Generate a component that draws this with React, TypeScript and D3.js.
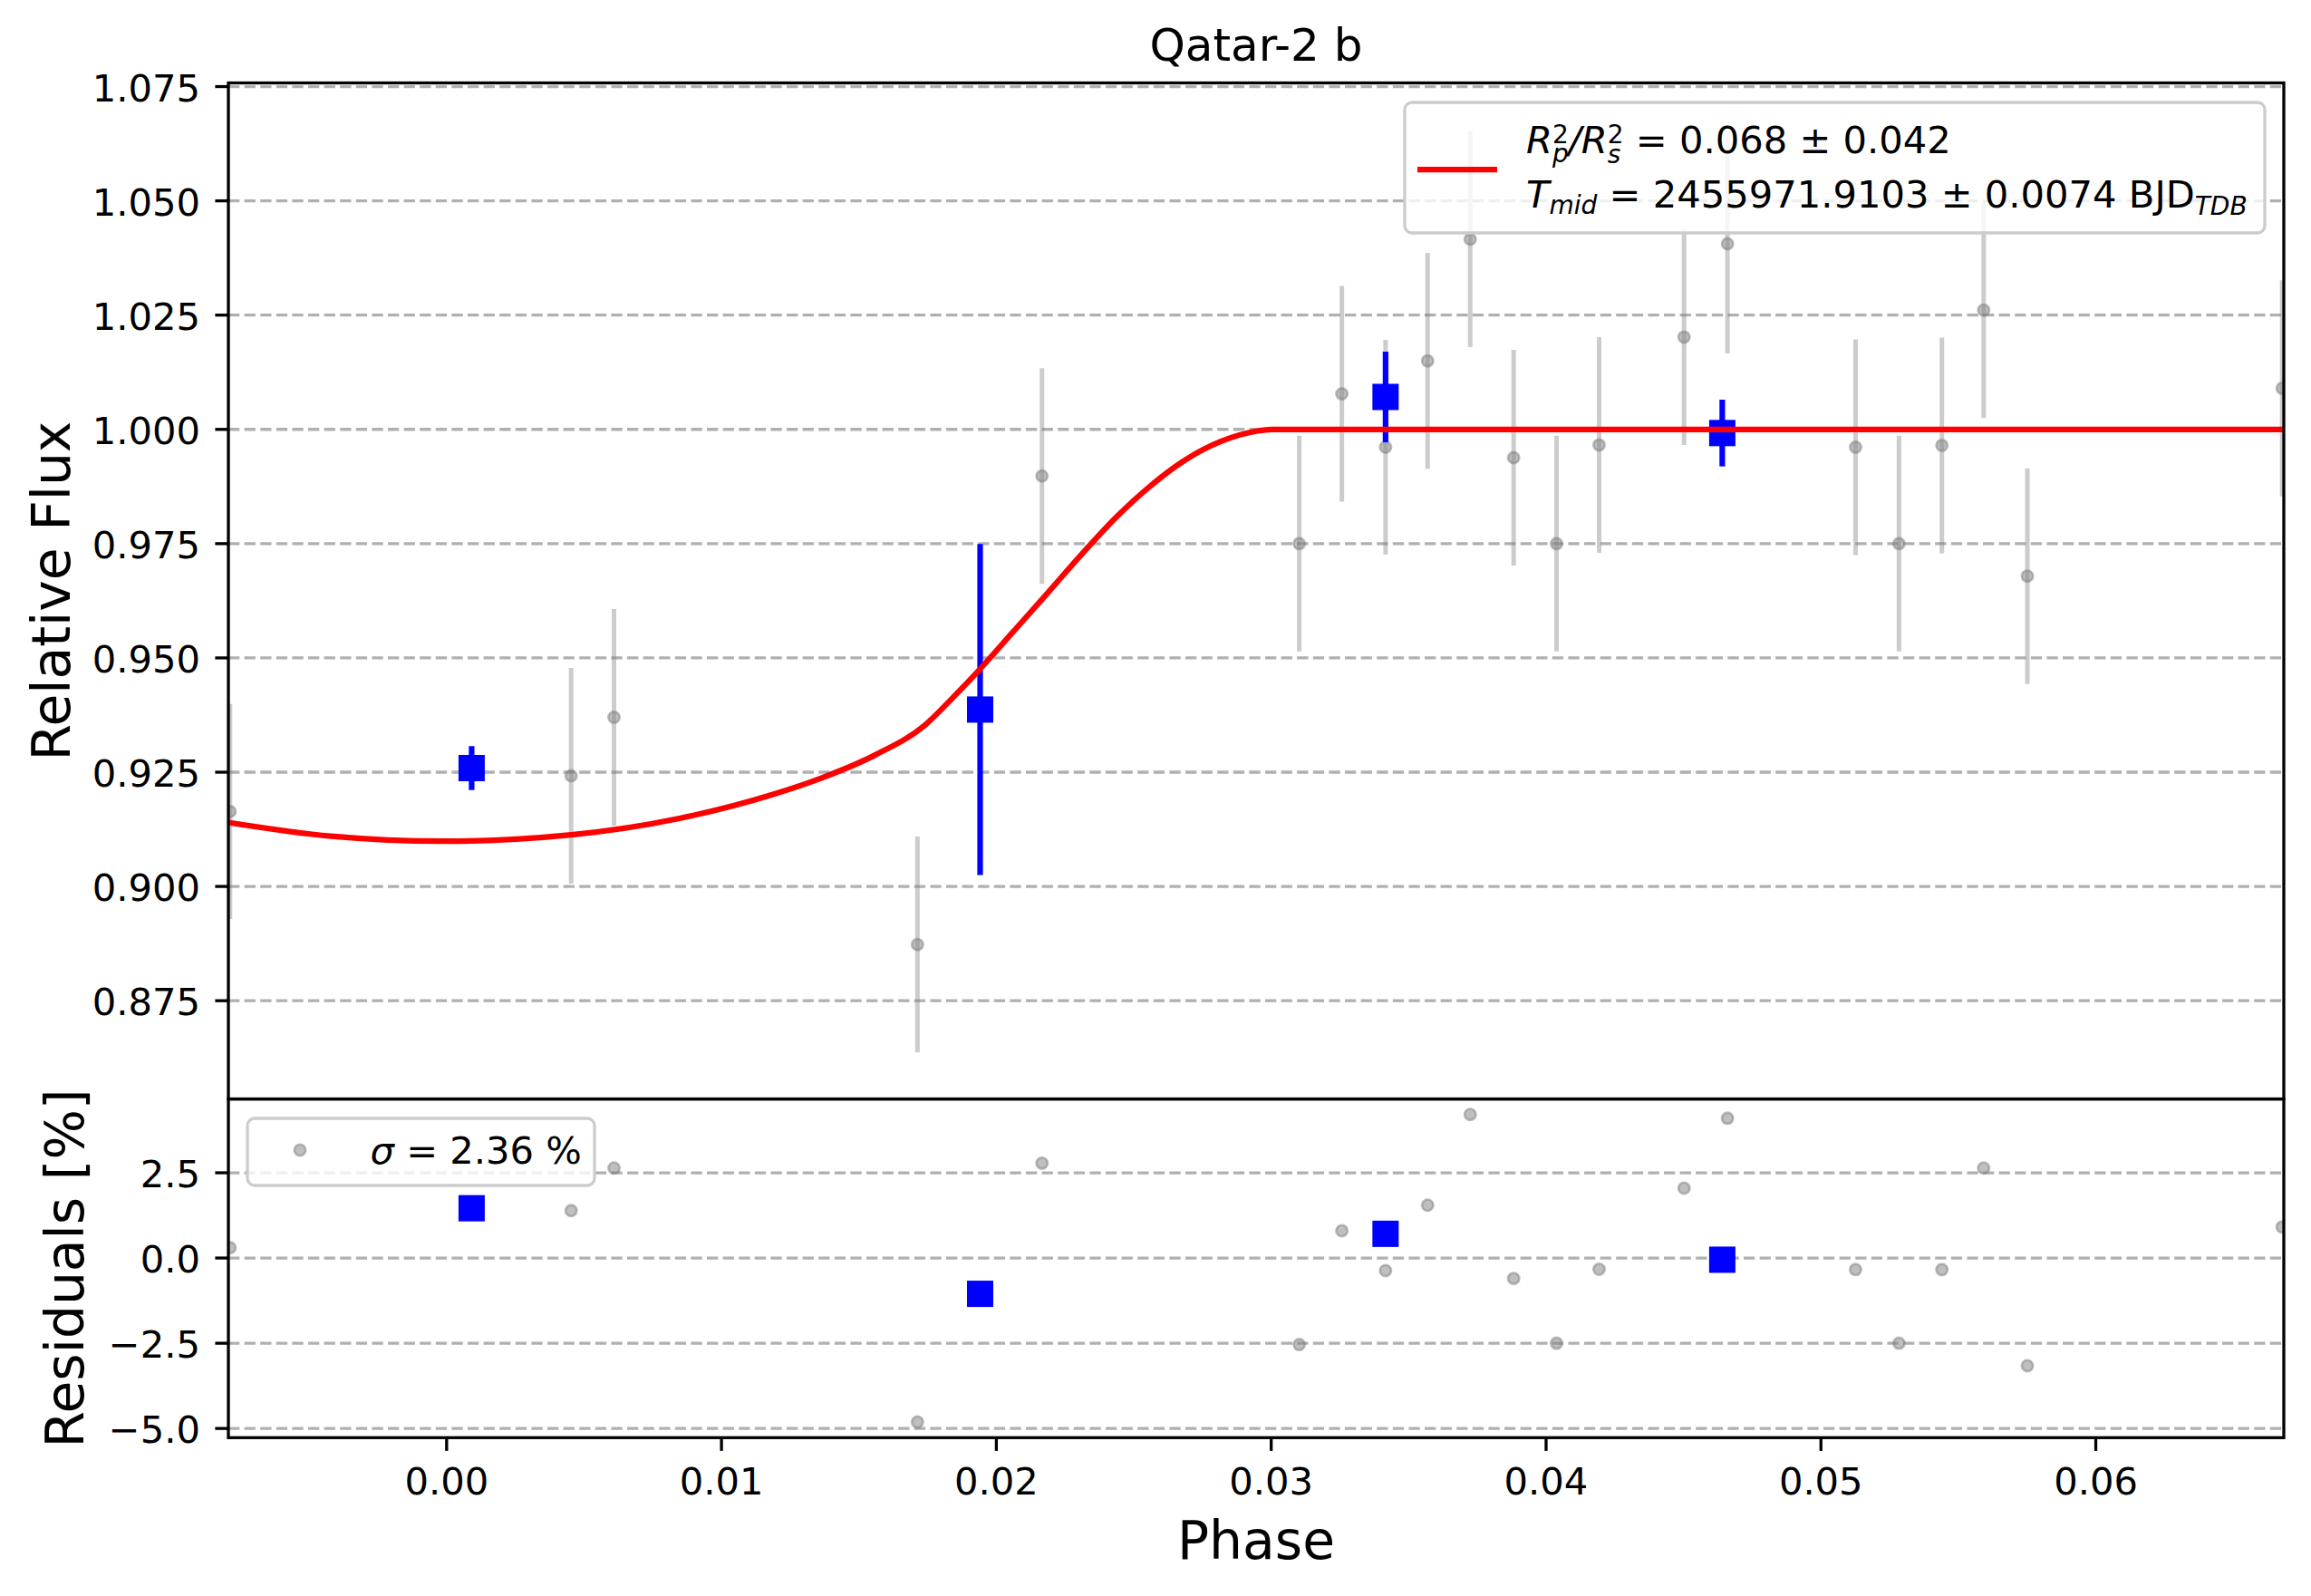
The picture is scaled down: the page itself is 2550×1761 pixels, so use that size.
import React from 'react';
import * as d3 from 'd3';

// Unbinned observations (phase, relative flux, error, residual %)
const obsPhase = [
  -0.00788, 0.00453, 0.00609, 0.01713, 0.02166, 0.03102, 0.03257, 0.03416, 0.03569, 0.03724, 0.03882,
  0.04038, 0.04193, 0.04502, 0.0466, 0.05126, 0.05284, 0.0544, 0.05592, 0.05751, 0.06678,
];
const obsFlux = [
  0.9164, 0.9242, 0.937, 0.8873, 0.9898, 0.975, 1.0078, 0.9961, 1.015, 1.0416, 0.9938,
  0.975, 0.9966, 1.0202, 1.0406, 0.9961, 0.975, 0.9965, 1.0261, 0.9679, 1.009,
];
const obsErr = [
  0.0235, 0.0236, 0.0237, 0.0236, 0.0236, 0.0236, 0.0236, 0.0235, 0.0236, 0.0236, 0.0236,
  0.0236, 0.0236, 0.0236, 0.024, 0.0236, 0.0236, 0.0236, 0.0236, 0.0236, 0.0236,
];
const obsResid = [
  0.3, 1.39, 2.64, -4.81, 2.78, -2.54, 0.8, -0.37, 1.55, 4.21, -0.6,
  -2.5, -0.33, 2.05, 4.1, -0.34, -2.5, -0.34, 2.64, -3.16, 0.91,
];

// Binned observations
const binPhase = [0.00091, 0.01941, 0.03416, 0.04641];
const binFlux = [0.9259, 0.9387, 1.0071, 0.9992];
const binErr = [0.0048, 0.0362, 0.0099, 0.0073];
const binResid = [1.46, -1.05, 0.71, -0.05];

// Transit model
const modelPhase = [
  -0.00794, -0.0042, -0.0001, 0.00453, 0.00847, 0.01185, 0.01367, 0.01557, 0.01746, 0.0184,
  0.01935, 0.02061, 0.02188, 0.02314, 0.0244, 0.02566, 0.02692, 0.02818, 0.02945, 0.03, 0.06684,
];
const modelFlux = [
  0.914, 0.911, 0.9099, 0.9113, 0.9149, 0.9201, 0.9238, 0.9287, 0.9356, 0.9412,
  0.9472, 0.9557, 0.9643, 0.9729, 0.981, 0.9879, 0.9935, 0.9974, 0.9996, 1.0, 1.0,
];

const fluxTicks = [0.875, 0.9, 0.925, 0.95, 0.975, 1.0, 1.025, 1.05, 1.075];
const residTicks = [-5, -2.5, 0, 2.5];
const phaseTicks = [0, 0.01, 0.02, 0.03, 0.04, 0.05, 0.06];

const W = 2550;
const H = 1761;
const left = 252;
const right = 2520;
const topMain = 91.5;
const bottomMain = 1212.6;
const bottomResid = 1586.3;

const FONT = 'DejaVu Sans';
const FS = 41.67;
const SUB = 28;
const LW = 3.3;

const x = d3.scaleLinear().domain([-0.00794, 0.06684]).range([left, right]);
const yMain = d3.scaleLinear().domain([0.8535, 1.0758]).range([bottomMain, topMain]);
const yRes = d3.scaleLinear().domain([-5.27, 4.665]).range([bottomResid, bottomMain]);

const fmtMinus = (s: string) => s.replace('-', '\u2212');

const GrayPoint: React.FC<{ cx: number; cy: number }> = ({ cx, cy }) => (
  <circle cx={cx} cy={cy} r={6.2} fill="gray" fillOpacity={0.5} stroke="gray" strokeOpacity={0.5} strokeWidth={2.6} />
);

export default function App() {
  const modelLine = d3
    .line<number>()
    .x((_, i) => x(modelPhase[i]))
    .y((d) => yMain(d))
    .curve(d3.curveMonotoneX)(modelFlux);

  const sq = 29;

  return (
    <div style={{ position: 'absolute', left: 0, top: 0 }}>
      <svg width={W} height={H} viewBox={`0 0 ${W} ${H}`} style={{ display: 'block', background: '#fff' }} fontFamily={FONT}>
        <defs>
          <clipPath id="clipMain">
            <rect x={left} y={topMain} width={right - left} height={bottomMain - topMain} />
          </clipPath>
          <clipPath id="clipRes">
            <rect x={left} y={bottomMain} width={right - left} height={bottomResid - bottomMain} />
          </clipPath>
        </defs>

        {/* Title */}
        <text x={(left + right) / 2} y={67} fontSize={50} textAnchor="middle">Qatar-2 b</text>

        {/* ---- Main panel ---- */}
        <g>
          {fluxTicks.map((t) => (
            <line key={`g${t}`} x1={left} x2={right} y1={yMain(t)} y2={yMain(t)} stroke="#b0b0b0" strokeWidth={LW} strokeDasharray="12.3,5.3" />
          ))}
          <g clipPath="url(#clipMain)">
            {obsPhase.map((p, i) => (
              <line key={`oe${i}`} x1={x(p)} x2={x(p)} y1={yMain(obsFlux[i] - obsErr[i])} y2={yMain(obsFlux[i] + obsErr[i])} stroke="gray" strokeOpacity={0.4} strokeWidth={5} />
            ))}
            {obsPhase.map((p, i) => (
              <GrayPoint key={`op${i}`} cx={x(p)} cy={yMain(obsFlux[i])} />
            ))}
            {binPhase.map((p, i) => (
              <line key={`be${i}`} x1={x(p)} x2={x(p)} y1={yMain(binFlux[i] - binErr[i])} y2={yMain(binFlux[i] + binErr[i])} stroke="blue" strokeWidth={6.2} />
            ))}
            {binPhase.map((p, i) => (
              <rect key={`bp${i}`} x={x(p) - sq / 2} y={yMain(binFlux[i]) - sq / 2} width={sq} height={sq} fill="blue" />
            ))}
            <path d={modelLine || ''} fill="none" stroke="red" strokeWidth={6.25} />
          </g>
          {fluxTicks.map((t) => (
            <g key={`t${t}`}>
              <line x1={left - 14.6} x2={left} y1={yMain(t)} y2={yMain(t)} stroke="#000" strokeWidth={LW} />
              <text x={221} y={yMain(t) + 16} fontSize={FS} textAnchor="end">{t.toFixed(3)}</text>
            </g>
          ))}
          <rect x={left} y={topMain} width={right - left} height={bottomMain - topMain} fill="none" stroke="#000" strokeWidth={LW} />
          <text transform={`translate(77,${(topMain + bottomMain) / 2}) rotate(-90)`} fontSize={58.3} textAnchor="middle">Relative Flux</text>

          {/* Legend */}
          <rect x={1550} y={113} width={949} height={144} rx={8} fill="#fff" fillOpacity={0.8} stroke="#cccccc" strokeWidth={LW} />
          <line x1={1564} x2={1652} y1={187} y2={187} stroke="red" strokeWidth={6.25} />
          <text x={1684} y={169} fontSize={FS}>
            <tspan fontStyle="italic">R</tspan>
            <tspan fontStyle="italic" fontSize={SUB} dy={10}>p</tspan>
            <tspan fontSize={SUB} dx={-17.8} dy={-21}>2</tspan>
            <tspan fontStyle="italic" dy={11}>/R</tspan>
            <tspan fontStyle="italic" fontSize={SUB} dy={11}>s</tspan>
            <tspan fontSize={SUB} dx={-14.6} dy={-22}>2</tspan>
            <tspan dy={11}>{' = 0.068 \u00b1 0.042'}</tspan>
          </text>
          <text x={1684} y={229} fontSize={FS}>
            <tspan fontStyle="italic">T</tspan>
            <tspan fontStyle="italic" fontSize={SUB} dy={6.5}>mid</tspan>
            <tspan dy={-6.5}>{' = 2455971.9103 \u00b1 0.0074 BJD'}</tspan>
            <tspan fontStyle="italic" fontSize={SUB} dy={7.5}>TDB</tspan>
          </text>
        </g>

        {/* ---- Residual panel ---- */}
        <g>
          {residTicks.map((t) => (
            <line key={`rg${t}`} x1={left} x2={right} y1={yRes(t)} y2={yRes(t)} stroke="#b0b0b0" strokeWidth={LW} strokeDasharray="12.3,5.3" />
          ))}
          <g clipPath="url(#clipRes)">
            {obsPhase.map((p, i) => (
              <GrayPoint key={`rp${i}`} cx={x(p)} cy={yRes(obsResid[i])} />
            ))}
            {binPhase.map((p, i) => (
              <rect key={`rb${i}`} x={x(p) - sq / 2} y={yRes(binResid[i]) - sq / 2} width={sq} height={sq} fill="blue" />
            ))}
          </g>
          {residTicks.map((t) => (
            <g key={`rt${t}`}>
              <line x1={left - 14.6} x2={left} y1={yRes(t)} y2={yRes(t)} stroke="#000" strokeWidth={LW} />
              <text x={221} y={yRes(t) + 16} fontSize={FS} textAnchor="end">{fmtMinus(t.toFixed(1))}</text>
            </g>
          ))}
          {phaseTicks.map((t) => (
            <g key={`xt${t}`}>
              <line x1={x(t)} x2={x(t)} y1={bottomResid} y2={bottomResid + 14.6} stroke="#000" strokeWidth={LW} />
              <text x={x(t)} y={1649} fontSize={FS} textAnchor="middle">{t.toFixed(2)}</text>
            </g>
          ))}
          <rect x={left} y={bottomMain} width={right - left} height={bottomResid - bottomMain} fill="none" stroke="#000" strokeWidth={LW} />
          <text transform={`translate(91.5,${(bottomMain + bottomResid) / 2}) rotate(-90)`} fontSize={58.3} textAnchor="middle">Residuals [%]</text>
          <text x={(left + right) / 2} y={1720} fontSize={58.3} textAnchor="middle">Phase</text>

          {/* Legend */}
          <rect x={273} y={1234} width={383} height={74} rx={8} fill="#fff" fillOpacity={0.8} stroke="#cccccc" strokeWidth={LW} />
          <GrayPoint cx={331} cy={1269} />
          <text x={408.5} y={1284} fontSize={FS}>
            <tspan fontStyle="italic">{'\u03c3'}</tspan>
            <tspan>{' = 2.36 %'}</tspan>
          </text>
        </g>
      </svg>
    </div>
  );
}
